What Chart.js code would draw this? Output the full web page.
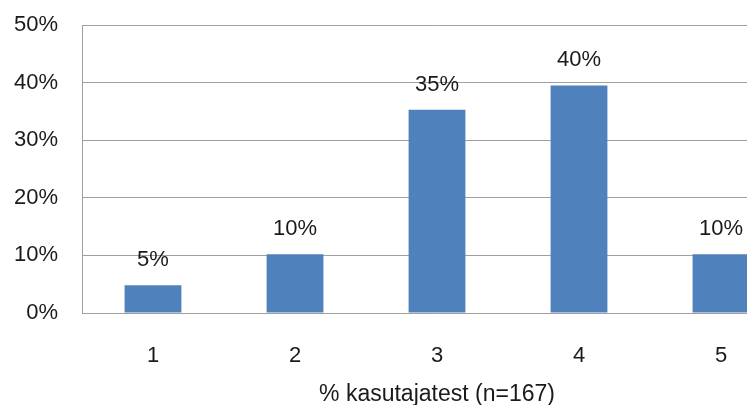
<!DOCTYPE html>
<html>
<head>
<meta charset="utf-8">
<script src="https://cdn.jsdelivr.net/npm/chart.js@4"></script>
<style>
html, body { margin: 0; padding: 0; background: #fff; overflow: hidden; }
#wrap { width: 800px; height: 412px; }
</style>
</head>
<body>
<div id="wrap"><canvas id="chart"></canvas></div>
<script>
// data
const categories = ["1", "2", "3", "4", "5"];
const shares = [4.8, 10.2, 35.3, 39.5, 10.2];
const yTicks = [0, 10, 20, 30, 40, 50];
const axisTitle = "% kasutajatest (n=167)";

const font = "'Liberation Sans', Arial, sans-serif";

// labels above bars
const barLabels = {
    id: "barLabels",
    afterDatasetsDraw(chart) {
        const ctx = chart.ctx;
        const meta = chart.getDatasetMeta(0);
        ctx.save();
        ctx.font = "22px " + font;
        ctx.fillStyle = "#1a1a1a";
        ctx.textAlign = "center";
        ctx.textBaseline = "alphabetic";
        meta.data.forEach((bar, i) => {
            ctx.fillText(Math.round(shares[i]) + "%", bar.x, bar.y - 19);
        });
        ctx.restore();
    }
};

new Chart(document.getElementById("chart"), {
    type: "bar",
    data: {
        labels: categories,
        datasets: [{
            data: shares,
            backgroundColor: "#4f81bd",
            barPercentage: 0.4,
            categoryPercentage: 1
        }]
    },
    options: {
        responsive: true,
        maintainAspectRatio: false,
        animation: false,
        layout: { padding: { top: 25, right: 8, left: 12, bottom: 4 } },
        plugins: {
            legend: { display: false },
            tooltip: { enabled: false }
        },
        scales: {
            x: {
                grid: { display: false, drawTicks: false },
                border: { display: true, color: "#a0a0a0", width: 1 },
                ticks: { color: "#1a1a1a", font: { family: font, size: 22 }, padding: 30 },
                title: {
                    display: true,
                    text: axisTitle,
                    color: "#1a1a1a",
                    font: { family: font, size: 23 },
                    padding: { top: -19, bottom: 0 }
                }
            },
            y: {
                min: 0,
                max: 50,
                afterBuildTicks: axis => {
                    axis.ticks = yTicks.map(v => ({ value: v }));
                },
                afterFit: axis => {
                    axis.width = 70;
                    axis.paddingTop = 0;
                    axis.paddingBottom = 0;
                },
                grid: { color: "#a0a0a0", drawTicks: false },
                border: { display: true, color: "#a0a0a0", width: 1 },
                ticks: {
                    color: "#1a1a1a",
                    font: { family: font, size: 22 },
                    padding: 24,
                    callback: v => v + "%"
                }
            }
        }
    },
    plugins: [barLabels]
});
</script>
</body>
</html>
